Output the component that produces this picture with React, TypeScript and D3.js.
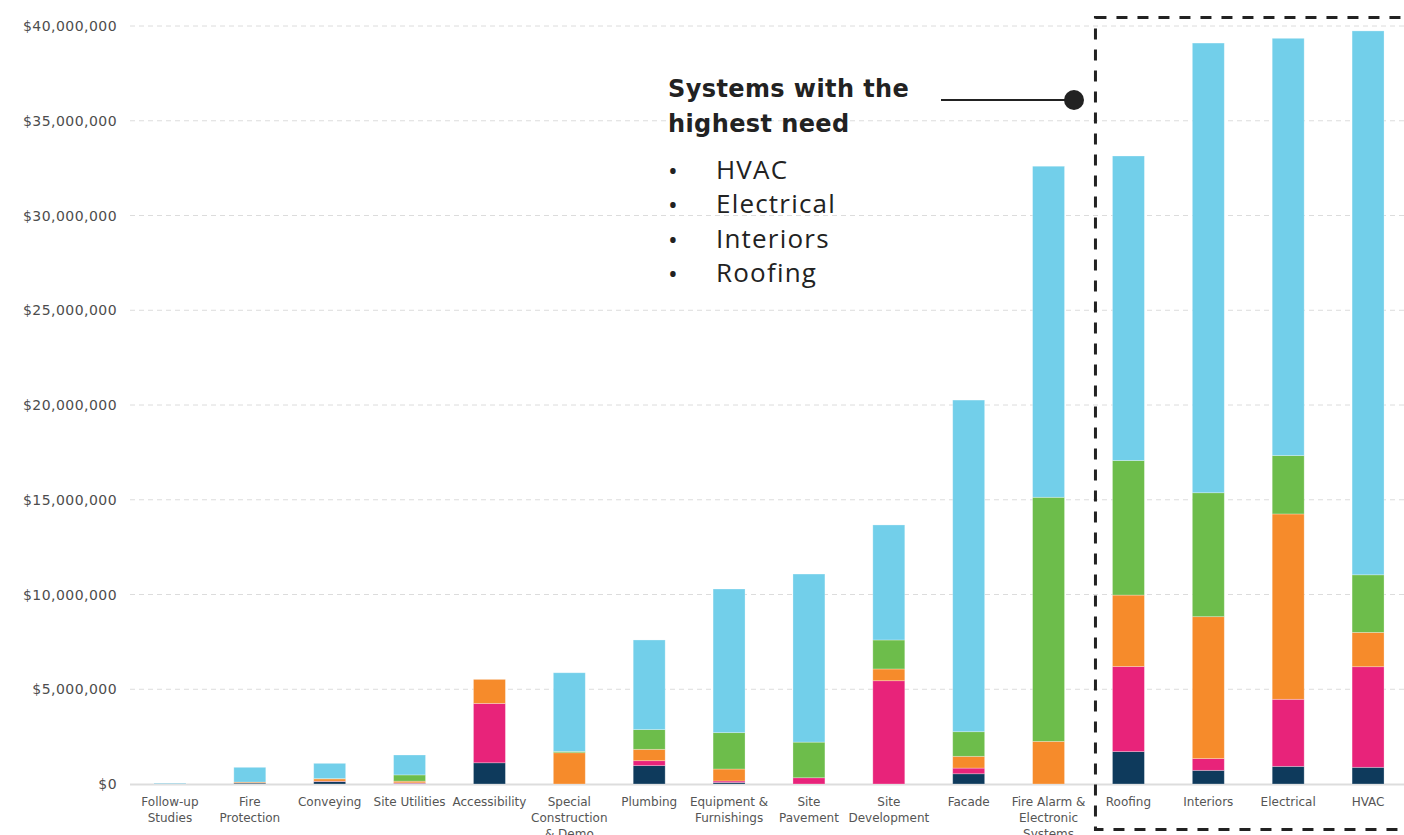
import React from "react";
import * as d3 from "d3";

// Capital need by building system, stacked by priority tier (in $ millions)
const categories = [
  "Follow-up Studies",
  "Fire Protection",
  "Conveying",
  "Site Utilities",
  "Accessibility",
  "Special Construction & Demo",
  "Plumbing",
  "Equipment & Furnishings",
  "Site Pavement",
  "Site Development",
  "Facade",
  "Fire Alarm & Electronic Systems",
  "Roofing",
  "Interiors",
  "Electrical",
  "HVAC",
];

const categoryLines = [
  ["Follow-up", "Studies"],
  ["Fire", "Protection"],
  ["Conveying"],
  ["Site Utilities"],
  ["Accessibility"],
  ["Special", "Construction", "& Demo"],
  ["Plumbing"],
  ["Equipment &", "Furnishings"],
  ["Site", "Pavement"],
  ["Site", "Development"],
  ["Facade"],
  ["Fire Alarm &", "Electronic", "Systems"],
  ["Roofing"],
  ["Interiors"],
  ["Electrical"],
  ["HVAC"],
];

const seriesKeys = ["tier1", "tier2", "tier3", "tier4", "tier5"];

const tier1 = [0.02, 0.05, 0.13, 0.03, 1.12, 0.0, 0.97, 0.08, 0.0, 0.0, 0.54, 0.0, 1.71, 0.72, 0.93, 0.88];
const tier2 = [0.0, 0.0, 0.02, 0.03, 3.13, 0.0, 0.26, 0.08, 0.33, 5.45, 0.3, 0.0, 4.49, 0.62, 3.54, 5.31];
const tier3 = [0.0, 0.05, 0.12, 0.09, 1.27, 1.65, 0.6, 0.63, 0.0, 0.62, 0.62, 2.25, 3.77, 7.49, 9.78, 1.81];
const tier4 = [0.0, 0.0, 0.02, 0.33, 0.0, 0.07, 1.04, 1.92, 1.88, 1.53, 1.3, 12.88, 7.1, 6.54, 3.08, 3.04];
const tier5 = [0.03, 0.78, 0.8, 1.05, 0.0, 4.15, 4.73, 7.58, 8.87, 6.07, 17.5, 17.47, 16.07, 23.73, 22.02, 28.7];

const seriesColors = ["#0e3a5c", "#e8237a", "#f68b2b", "#6dbd4b", "#72cfea"];

const yTicks = [0, 5, 10, 15, 20, 25, 30, 35, 40];

const highlightTitle = ["Systems with the", "highest need"];
const highlightItems = ["HVAC", "Electrical", "Interiors", "Roofing"];

const W = 1404;
const H = 835;

export default function App() {
  const rows = categories.map((c, i) => ({
    category: c,
    tier1: tier1[i],
    tier2: tier2[i],
    tier3: tier3[i],
    tier4: tier4[i],
    tier5: tier5[i],
  }));

  const stack = d3.stack<any>().keys(seriesKeys);
  const layers = stack(rows);

  const x = d3
    .scaleBand<string>()
    .domain(categories)
    .range([130, 1408])
    .paddingInner(0.6)
    .paddingOuter(0.3);

  const y = d3.scaleLinear().domain([0, 40]).range([784, 26]);

  const fmt = (v: number) => "$" + d3.format(",")(v * 1000000);

  const axisFont = "'DejaVu Sans', sans-serif";

  // dashed frame around the top four systems
  const boxLeft = (x("Roofing") as number) - 17;

  return (
    <svg
      width={W}
      height={H}
      style={{ position: "fixed", left: 0, top: 0, background: "#fff" }}
    >
      {/* gridlines */}
      {yTicks
        .filter((t) => t > 0)
        .map((t) => (
          <line
            key={"g" + t}
            x1={130}
            x2={W}
            y1={y(t)}
            y2={y(t)}
            stroke="#dcdcdc"
            strokeWidth={1}
            strokeDasharray="5 4"
          />
        ))}
      <line x1={130} x2={W} y1={y(0) + 0.5} y2={y(0) + 0.5} stroke="#dddddd" strokeWidth={2} />

      {/* y tick labels */}
      {yTicks.map((t) => (
        <text
          key={"yl" + t}
          x={117}
          y={y(t)}
          dy="0.36em"
          textAnchor="end"
          fontFamily={axisFont}
          fontSize={14}
          letterSpacing={0.45}
          fill="#4d4d4d"
        >
          {fmt(t)}
        </text>
      ))}

      {/* stacked bars */}
      {layers.map((layer, li) => (
        <g key={layer.key} fill={seriesColors[li]}>
          {layer.map((d: any, i: number) => {
            const h = y(d[0]) - y(d[1]);
            if (h <= 0) return null;
            return (
              <rect
                key={i}
                x={x(categories[i])}
                y={y(d[1])}
                width={x.bandwidth()}
                height={h}
                stroke="#ffffff"
                strokeOpacity={0.35}
                strokeWidth={0.8}
              />
            );
          })}
        </g>
      ))}

      {/* x category labels */}
      {categoryLines.map((lines, i) => (
        <text
          key={"xl" + i}
          x={(x(categories[i]) as number) + x.bandwidth() / 2}
          y={806}
          textAnchor="middle"
          fontFamily={axisFont}
          fontSize={12}
          fill="#555"
        >
          {lines.map((ln, j) => (
            <tspan key={j} x={(x(categories[i]) as number) + x.bandwidth() / 2} dy={j === 0 ? 0 : 15.8}>
              {ln}
            </tspan>
          ))}
        </text>
      ))}

      {/* highlight frame */}
      <rect
        x={boxLeft}
        y={17.5}
        width={W}
        height={812}
        fill="none"
        stroke="#222"
        strokeWidth={3}
        strokeDasharray="11 10"
      />

      {/* annotation */}
      <text fontFamily={axisFont} fontWeight="bold" fontSize={24} fill="#222" letterSpacing={0.4}>
        {highlightTitle.map((t, i) => (
          <tspan key={i} x={668} y={97 + i * 34.5}>
            {t}
          </tspan>
        ))}
      </text>
      <line x1={941} x2={1074} y1={100} y2={100} stroke="#222" strokeWidth={2} />
      <circle cx={1074} cy={100} r={10} fill="#222" />
      {highlightItems.map((t, i) => (
        <g key={"hi" + i}>
          <text x={668} y={180 + i * 34.4} fontFamily="'Open Sans', sans-serif" fontSize={26} fill="#222">
            •
          </text>
          <text
            x={716}
            y={179 + i * 34.4}
            fontFamily="'Open Sans', sans-serif"
            fontSize={26}
            fill="#222"
            letterSpacing={1.2}
          >
            {t}
          </text>
        </g>
      ))}
    </svg>
  );
}
